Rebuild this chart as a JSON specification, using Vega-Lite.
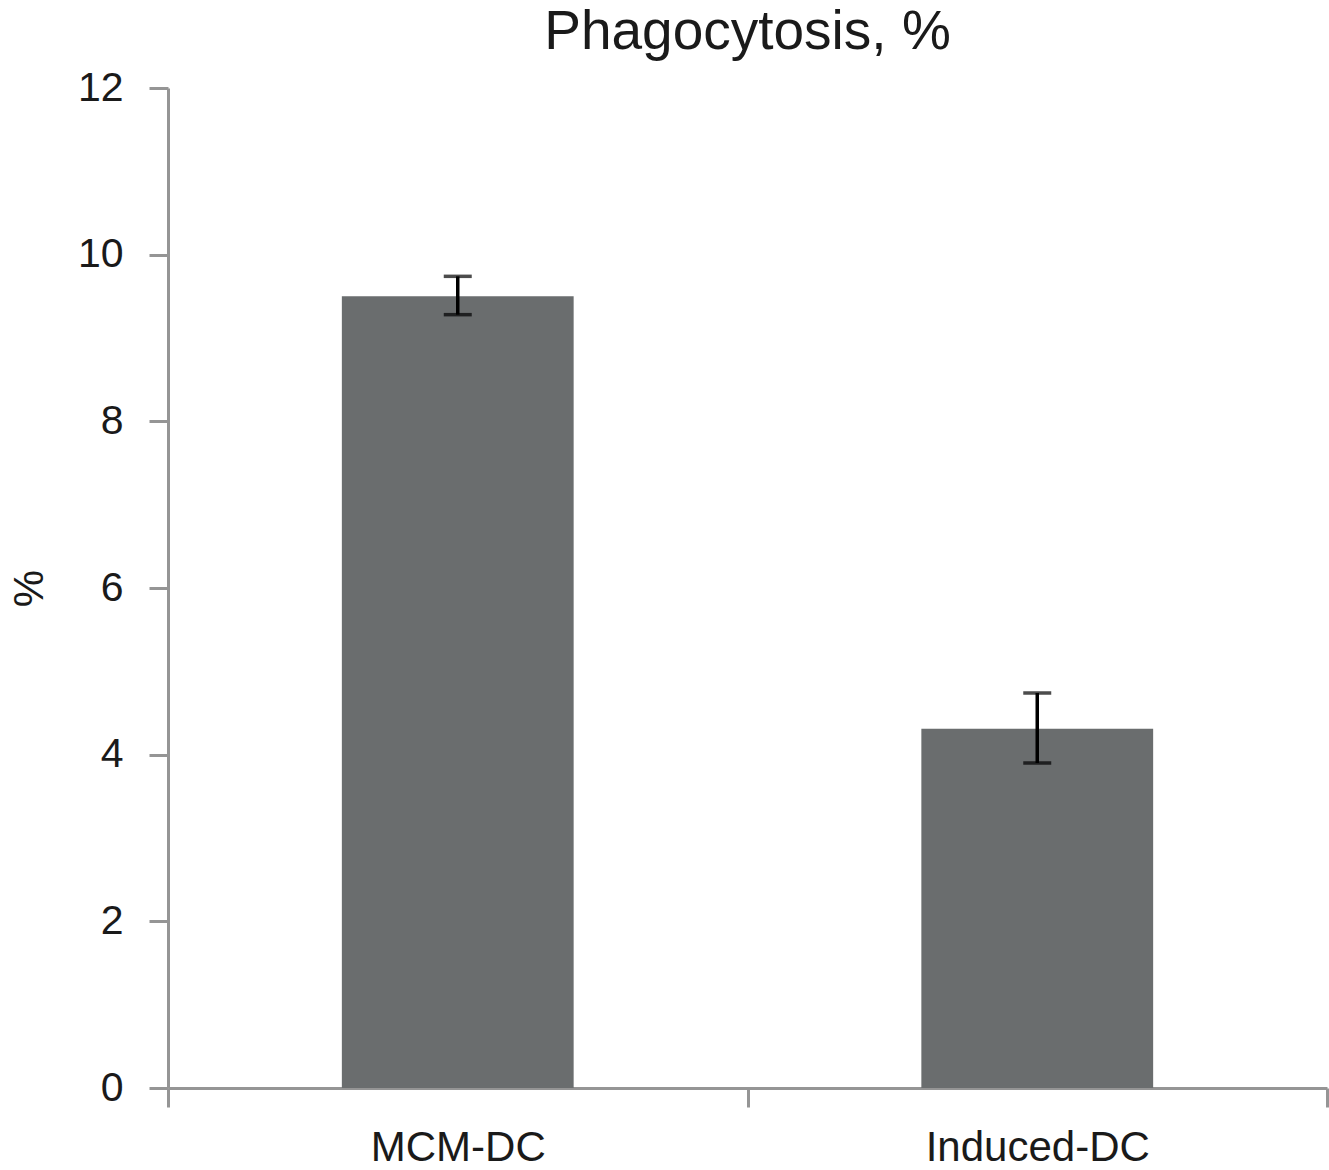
{
  "$schema": "https://vega.github.io/schema/vega-lite/v6.json",
  "autosize": {"type": "none"},
  "padding": {"left": 168, "top": 88, "right": 2, "bottom": 82},
  "width": 1159,
  "height": 1000,
  "background": "white",
  "title": {
    "text": "Phagocytosis, %",
    "font": "Liberation Sans",
    "fontSize": 55,
    "fontWeight": "normal",
    "color": "#1a1a1a",
    "anchor": "middle",
    "offset": 6
  },
  "config": {
    "view": {"stroke": null},
    "font": "Liberation Sans"
  },
  "data": {
    "values": [
      {"group": "MCM-DC", "value": 9.5, "lo": 9.28, "hi": 9.74},
      {"group": "Induced-DC", "value": 4.31, "lo": 3.9, "hi": 4.74}
    ]
  },
  "encoding": {
    "x": {
      "field": "group",
      "type": "nominal",
      "sort": ["MCM-DC", "Induced-DC"],
      "scale": {"paddingInner": 0, "paddingOuter": 0},
      "axis": {
        "title": null,
        "labelAngle": 0,
        "labelLimit": 0,
        "labelFont": "Liberation Sans",
        "labelFontSize": 42,
        "labelColor": "#1a1a1a",
        "labelPadding": 20,
        "tickBand": "extent",
        "tickSize": 19,
        "tickWidth": 3,
        "tickColor": "#959595",
        "domainColor": "#959595",
        "domainWidth": 3
      }
    }
  },
  "layer": [
    {
      "mark": {"type": "bar", "color": "#6a6d6e", "width": {"band": 0.4}},
      "encoding": {
        "y": {
          "field": "value",
          "type": "quantitative",
          "scale": {"domain": [0, 12], "nice": false},
          "axis": {
            "title": "%",
            "titleFont": "Liberation Sans",
            "titleFontSize": 42,
            "titleFontWeight": "normal",
            "titleColor": "#1a1a1a",
            "titleAngle": -90,
            "titlePadding": 26,
            "values": [0, 2, 4, 6, 8, 10, 12],
            "format": "d",
            "grid": false,
            "labelFont": "Liberation Sans",
            "labelFontSize": 41,
            "labelColor": "#1a1a1a",
            "labelPadding": 26,
            "tickSize": 19,
            "tickWidth": 3,
            "tickColor": "#959595",
            "domainColor": "#959595",
            "domainWidth": 3
          }
        }
      }
    },
    {
      "mark": {"type": "rule", "color": "#000000", "strokeWidth": 3.5},
      "encoding": {
        "y": {"field": "lo", "type": "quantitative"},
        "y2": {"field": "hi"}
      }
    },
    {
      "mark": {"type": "tick", "color": "#000000", "thickness": 3.5, "size": 28},
      "encoding": {"y": {"field": "lo", "type": "quantitative"}}
    },
    {
      "mark": {"type": "tick", "color": "#000000", "thickness": 3.5, "size": 28},
      "encoding": {"y": {"field": "hi", "type": "quantitative"}}
    }
  ]
}
